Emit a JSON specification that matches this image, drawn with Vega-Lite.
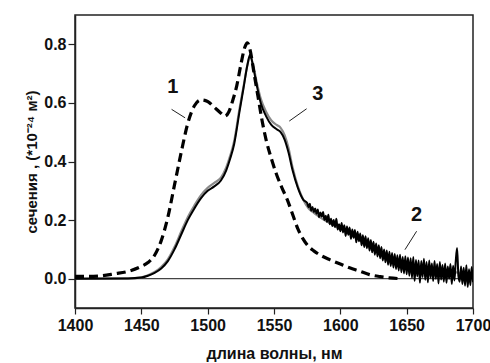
{
  "$schema": "https://vega.github.io/schema/vega-lite/v6.json",
  "width": 398,
  "height": 293,
  "autosize": {"type": "none"},
  "padding": {"left": 75, "top": 15, "right": 17, "bottom": 55},
  "background": "white",
  "config": {
    "view": {"stroke": "#222", "strokeWidth": 1.5},
    "font": "Liberation Sans",
    "axis": {
      "labelFont": "Liberation Sans",
      "labelFontWeight": "bold",
      "labelFontSize": 16,
      "labelColor": "#111",
      "titleFont": "Liberation Sans",
      "titleFontSize": 15,
      "titleFontWeight": "bold",
      "titleColor": "#111",
      "domainColor": "#222",
      "tickColor": "#222",
      "grid": false
    }
  },
  "datasets": {
    "curves": [
      {"series": "1", "wl": 1400, "s": 0.008},
      {"series": "1", "wl": 1410, "s": 0.008},
      {"series": "1", "wl": 1420, "s": 0.01},
      {"series": "1", "wl": 1430, "s": 0.017},
      {"series": "1", "wl": 1440, "s": 0.025},
      {"series": "1", "wl": 1450, "s": 0.042},
      {"series": "1", "wl": 1455, "s": 0.055},
      {"series": "1", "wl": 1460, "s": 0.08},
      {"series": "1", "wl": 1465, "s": 0.13},
      {"series": "1", "wl": 1470, "s": 0.21},
      {"series": "1", "wl": 1475, "s": 0.32},
      {"series": "1", "wl": 1480, "s": 0.43},
      {"series": "1", "wl": 1485, "s": 0.53},
      {"series": "1", "wl": 1490, "s": 0.59},
      {"series": "1", "wl": 1495, "s": 0.61},
      {"series": "1", "wl": 1500, "s": 0.605},
      {"series": "1", "wl": 1505, "s": 0.585},
      {"series": "1", "wl": 1510, "s": 0.565},
      {"series": "1", "wl": 1513, "s": 0.555},
      {"series": "1", "wl": 1516, "s": 0.57},
      {"series": "1", "wl": 1519, "s": 0.61},
      {"series": "1", "wl": 1522, "s": 0.66},
      {"series": "1", "wl": 1525, "s": 0.73},
      {"series": "1", "wl": 1528, "s": 0.79},
      {"series": "1", "wl": 1530, "s": 0.805},
      {"series": "1", "wl": 1532, "s": 0.78},
      {"series": "1", "wl": 1535, "s": 0.7},
      {"series": "1", "wl": 1538, "s": 0.62},
      {"series": "1", "wl": 1541, "s": 0.54},
      {"series": "1", "wl": 1544, "s": 0.475},
      {"series": "1", "wl": 1548, "s": 0.41},
      {"series": "1", "wl": 1552, "s": 0.355},
      {"series": "1", "wl": 1556, "s": 0.31},
      {"series": "1", "wl": 1560, "s": 0.27},
      {"series": "1", "wl": 1564, "s": 0.22},
      {"series": "1", "wl": 1568, "s": 0.17},
      {"series": "1", "wl": 1572, "s": 0.135},
      {"series": "1", "wl": 1576, "s": 0.11},
      {"series": "1", "wl": 1580, "s": 0.095},
      {"series": "1", "wl": 1585, "s": 0.08},
      {"series": "1", "wl": 1592, "s": 0.065},
      {"series": "1", "wl": 1600, "s": 0.05},
      {"series": "1", "wl": 1607, "s": 0.037},
      {"series": "1", "wl": 1615, "s": 0.025},
      {"series": "1", "wl": 1622, "s": 0.014},
      {"series": "1", "wl": 1630, "s": 0.007},
      {"series": "1", "wl": 1637, "s": 0.003},
      {"series": "1", "wl": 1645, "s": 0.0},

      {"series": "3", "wl": 1400, "s": 0.0},
      {"series": "3", "wl": 1440, "s": 0.001},
      {"series": "3", "wl": 1450, "s": 0.005},
      {"series": "3", "wl": 1455, "s": 0.012},
      {"series": "3", "wl": 1460, "s": 0.023},
      {"series": "3", "wl": 1465, "s": 0.04},
      {"series": "3", "wl": 1470, "s": 0.066},
      {"series": "3", "wl": 1475, "s": 0.108},
      {"series": "3", "wl": 1480, "s": 0.16},
      {"series": "3", "wl": 1485, "s": 0.21},
      {"series": "3", "wl": 1490, "s": 0.25},
      {"series": "3", "wl": 1495, "s": 0.285},
      {"series": "3", "wl": 1500, "s": 0.31},
      {"series": "3", "wl": 1505, "s": 0.327},
      {"series": "3", "wl": 1510, "s": 0.345},
      {"series": "3", "wl": 1514, "s": 0.38},
      {"series": "3", "wl": 1517, "s": 0.42},
      {"series": "3", "wl": 1520, "s": 0.47},
      {"series": "3", "wl": 1524, "s": 0.58},
      {"series": "3", "wl": 1527, "s": 0.655},
      {"series": "3", "wl": 1530, "s": 0.73},
      {"series": "3", "wl": 1532, "s": 0.76},
      {"series": "3", "wl": 1534, "s": 0.735},
      {"series": "3", "wl": 1537, "s": 0.67},
      {"series": "3", "wl": 1540, "s": 0.615},
      {"series": "3", "wl": 1544, "s": 0.57},
      {"series": "3", "wl": 1548, "s": 0.54},
      {"series": "3", "wl": 1552, "s": 0.525},
      {"series": "3", "wl": 1555, "s": 0.515},
      {"series": "3", "wl": 1558, "s": 0.49},
      {"series": "3", "wl": 1561, "s": 0.445},
      {"series": "3", "wl": 1564, "s": 0.38},
      {"series": "3", "wl": 1568, "s": 0.315},
      {"series": "3", "wl": 1572, "s": 0.27},
      {"series": "3", "wl": 1576, "s": 0.24},
      {"series": "3", "wl": 1580, "s": 0.225},
      {"series": "3", "wl": 1590, "s": 0.195},
      {"series": "3", "wl": 1600, "s": 0.17},
      {"series": "3", "wl": 1610, "s": 0.145},
      {"series": "3", "wl": 1620, "s": 0.115},
      {"series": "3", "wl": 1630, "s": 0.088},
      {"series": "3", "wl": 1640, "s": 0.065},
      {"series": "3", "wl": 1650, "s": 0.05},
      {"series": "3", "wl": 1660, "s": 0.04},
      {"series": "3", "wl": 1670, "s": 0.032},
      {"series": "3", "wl": 1680, "s": 0.026},
      {"series": "3", "wl": 1690, "s": 0.02},
      {"series": "3", "wl": 1700, "s": 0.016},

      {"series": "2", "wl": 1400, "s": 0.0},
      {"series": "2", "wl": 1440, "s": 0.001},
      {"series": "2", "wl": 1450, "s": 0.004},
      {"series": "2", "wl": 1455, "s": 0.01},
      {"series": "2", "wl": 1460, "s": 0.02},
      {"series": "2", "wl": 1465, "s": 0.035},
      {"series": "2", "wl": 1470, "s": 0.06},
      {"series": "2", "wl": 1475, "s": 0.1},
      {"series": "2", "wl": 1480, "s": 0.15},
      {"series": "2", "wl": 1485, "s": 0.2},
      {"series": "2", "wl": 1490, "s": 0.24},
      {"series": "2", "wl": 1495, "s": 0.275},
      {"series": "2", "wl": 1500, "s": 0.3},
      {"series": "2", "wl": 1505, "s": 0.315},
      {"series": "2", "wl": 1510, "s": 0.335},
      {"series": "2", "wl": 1514, "s": 0.37},
      {"series": "2", "wl": 1517, "s": 0.41},
      {"series": "2", "wl": 1520, "s": 0.46},
      {"series": "2", "wl": 1524, "s": 0.57},
      {"series": "2", "wl": 1527, "s": 0.65},
      {"series": "2", "wl": 1530, "s": 0.73},
      {"series": "2", "wl": 1532, "s": 0.765},
      {"series": "2", "wl": 1534, "s": 0.73},
      {"series": "2", "wl": 1537, "s": 0.66},
      {"series": "2", "wl": 1540, "s": 0.6},
      {"series": "2", "wl": 1544, "s": 0.555},
      {"series": "2", "wl": 1548, "s": 0.525},
      {"series": "2", "wl": 1552, "s": 0.51},
      {"series": "2", "wl": 1555, "s": 0.5},
      {"series": "2", "wl": 1558, "s": 0.475},
      {"series": "2", "wl": 1561, "s": 0.43},
      {"series": "2", "wl": 1564, "s": 0.37},
      {"series": "2", "wl": 1568, "s": 0.31},
      {"series": "2", "wl": 1572, "s": 0.27},
      {"series": "2", "wl": 1575, "s": 0.258},
      {"series": "2", "wl": 1576, "s": 0.244},
      {"series": "2", "wl": 1577, "s": 0.256},
      {"series": "2", "wl": 1578, "s": 0.232},
      {"series": "2", "wl": 1579, "s": 0.245},
      {"series": "2", "wl": 1580, "s": 0.228},
      {"series": "2", "wl": 1581, "s": 0.24},
      {"series": "2", "wl": 1582, "s": 0.222},
      {"series": "2", "wl": 1583, "s": 0.236},
      {"series": "2", "wl": 1584, "s": 0.21},
      {"series": "2", "wl": 1585, "s": 0.226},
      {"series": "2", "wl": 1586, "s": 0.212},
      {"series": "2", "wl": 1587, "s": 0.228},
      {"series": "2", "wl": 1588, "s": 0.2},
      {"series": "2", "wl": 1589, "s": 0.215},
      {"series": "2", "wl": 1590, "s": 0.194},
      {"series": "2", "wl": 1591, "s": 0.218},
      {"series": "2", "wl": 1592, "s": 0.186},
      {"series": "2", "wl": 1593, "s": 0.205},
      {"series": "2", "wl": 1594, "s": 0.18},
      {"series": "2", "wl": 1595, "s": 0.2},
      {"series": "2", "wl": 1596, "s": 0.176},
      {"series": "2", "wl": 1597, "s": 0.205},
      {"series": "2", "wl": 1598, "s": 0.168},
      {"series": "2", "wl": 1599, "s": 0.186},
      {"series": "2", "wl": 1600, "s": 0.162},
      {"series": "2", "wl": 1601, "s": 0.19},
      {"series": "2", "wl": 1602, "s": 0.158},
      {"series": "2", "wl": 1603, "s": 0.182},
      {"series": "2", "wl": 1604, "s": 0.146},
      {"series": "2", "wl": 1605, "s": 0.178},
      {"series": "2", "wl": 1606, "s": 0.15},
      {"series": "2", "wl": 1607, "s": 0.175},
      {"series": "2", "wl": 1608, "s": 0.136},
      {"series": "2", "wl": 1609, "s": 0.168},
      {"series": "2", "wl": 1610, "s": 0.14},
      {"series": "2", "wl": 1611, "s": 0.166},
      {"series": "2", "wl": 1612, "s": 0.124},
      {"series": "2", "wl": 1613, "s": 0.16},
      {"series": "2", "wl": 1614, "s": 0.128},
      {"series": "2", "wl": 1615, "s": 0.154},
      {"series": "2", "wl": 1616, "s": 0.114},
      {"series": "2", "wl": 1617, "s": 0.148},
      {"series": "2", "wl": 1618, "s": 0.108},
      {"series": "2", "wl": 1619, "s": 0.145},
      {"series": "2", "wl": 1620, "s": 0.104},
      {"series": "2", "wl": 1621, "s": 0.138},
      {"series": "2", "wl": 1622, "s": 0.096},
      {"series": "2", "wl": 1623, "s": 0.132},
      {"series": "2", "wl": 1624, "s": 0.09},
      {"series": "2", "wl": 1625, "s": 0.126},
      {"series": "2", "wl": 1626, "s": 0.082},
      {"series": "2", "wl": 1627, "s": 0.12},
      {"series": "2", "wl": 1628, "s": 0.076},
      {"series": "2", "wl": 1629, "s": 0.114},
      {"series": "2", "wl": 1630, "s": 0.07},
      {"series": "2", "wl": 1631, "s": 0.108},
      {"series": "2", "wl": 1632, "s": 0.062},
      {"series": "2", "wl": 1633, "s": 0.1},
      {"series": "2", "wl": 1634, "s": 0.056},
      {"series": "2", "wl": 1635, "s": 0.096},
      {"series": "2", "wl": 1636, "s": 0.048},
      {"series": "2", "wl": 1637, "s": 0.092},
      {"series": "2", "wl": 1638, "s": 0.043},
      {"series": "2", "wl": 1639, "s": 0.088},
      {"series": "2", "wl": 1640, "s": 0.038},
      {"series": "2", "wl": 1641, "s": 0.084},
      {"series": "2", "wl": 1642, "s": 0.033},
      {"series": "2", "wl": 1643, "s": 0.08},
      {"series": "2", "wl": 1644, "s": 0.028},
      {"series": "2", "wl": 1645, "s": 0.082},
      {"series": "2", "wl": 1646, "s": 0.022},
      {"series": "2", "wl": 1647, "s": 0.074},
      {"series": "2", "wl": 1648, "s": 0.018},
      {"series": "2", "wl": 1649, "s": 0.077},
      {"series": "2", "wl": 1650, "s": 0.015},
      {"series": "2", "wl": 1651, "s": 0.072},
      {"series": "2", "wl": 1652, "s": 0.01},
      {"series": "2", "wl": 1653, "s": 0.07},
      {"series": "2", "wl": 1654, "s": 0.003},
      {"series": "2", "wl": 1655, "s": 0.074},
      {"series": "2", "wl": 1656, "s": -0.008},
      {"series": "2", "wl": 1657, "s": 0.064},
      {"series": "2", "wl": 1658, "s": 0.008},
      {"series": "2", "wl": 1659, "s": 0.062},
      {"series": "2", "wl": 1660, "s": -0.014},
      {"series": "2", "wl": 1661, "s": 0.06},
      {"series": "2", "wl": 1662, "s": 0.006},
      {"series": "2", "wl": 1663, "s": 0.068},
      {"series": "2", "wl": 1664, "s": -0.004},
      {"series": "2", "wl": 1665, "s": 0.057},
      {"series": "2", "wl": 1666, "s": -0.012},
      {"series": "2", "wl": 1667, "s": 0.062},
      {"series": "2", "wl": 1668, "s": 0.003},
      {"series": "2", "wl": 1669, "s": 0.052},
      {"series": "2", "wl": 1670, "s": -0.008},
      {"series": "2", "wl": 1671, "s": 0.06},
      {"series": "2", "wl": 1672, "s": 0.0},
      {"series": "2", "wl": 1673, "s": 0.05},
      {"series": "2", "wl": 1674, "s": -0.016},
      {"series": "2", "wl": 1675, "s": 0.057},
      {"series": "2", "wl": 1676, "s": -0.003},
      {"series": "2", "wl": 1677, "s": 0.047},
      {"series": "2", "wl": 1678, "s": -0.01},
      {"series": "2", "wl": 1679, "s": 0.052},
      {"series": "2", "wl": 1680, "s": -0.014},
      {"series": "2", "wl": 1681, "s": 0.042},
      {"series": "2", "wl": 1682, "s": 0.0},
      {"series": "2", "wl": 1683, "s": 0.05},
      {"series": "2", "wl": 1684, "s": -0.018},
      {"series": "2", "wl": 1685, "s": 0.044},
      {"series": "2", "wl": 1686, "s": -0.006},
      {"series": "2", "wl": 1687, "s": 0.06},
      {"series": "2", "wl": 1688, "s": 0.105},
      {"series": "2", "wl": 1689, "s": 0.01},
      {"series": "2", "wl": 1690, "s": -0.01},
      {"series": "2", "wl": 1691, "s": 0.042},
      {"series": "2", "wl": 1692, "s": -0.018},
      {"series": "2", "wl": 1693, "s": 0.037},
      {"series": "2", "wl": 1694, "s": -0.024},
      {"series": "2", "wl": 1695, "s": 0.046},
      {"series": "2", "wl": 1696, "s": -0.028},
      {"series": "2", "wl": 1697, "s": 0.032},
      {"series": "2", "wl": 1698, "s": -0.022},
      {"series": "2", "wl": 1699, "s": 0.04},
      {"series": "2", "wl": 1700, "s": -0.012}
    ],
    "labels": [
      {"label": "1", "wl": 1473.8, "s": 0.653},
      {"label": "3", "wl": 1583, "s": 0.629},
      {"label": "2", "wl": 1657.5, "s": 0.219}
    ],
    "arrows": [
      {"label": "1", "wl": 1472.8, "s": 0.578, "wl2": 1483, "s2": 0.549},
      {"label": "3", "wl": 1574.6, "s": 0.58, "wl2": 1561.5, "s2": 0.538},
      {"label": "2", "wl": 1657.5, "s": 0.162, "wl2": 1648.7, "s2": 0.099}
    ]
  },
  "layer": [
    {
      "data": {"values": [{"z": 0}]},
      "mark": {"type": "rule", "color": "#444", "strokeWidth": 1.2},
      "encoding": {
        "y": {
          "field": "z", "type": "quantitative",
          "scale": {"domain": [-0.1, 0.9], "nice": false, "zero": false},
          "axis": {
            "title": "сечения , (*10⁻²⁴ м²)",
            "values": [0, 0.1, 0.2, 0.3, 0.4, 0.5, 0.6, 0.7, 0.8],
            "format": ".1f",
            "labelExpr": "round(datum.value * 10) % 2 === 0 ? datum.label : ''",
            "tickSize": {"condition": {"test": "round(datum.value * 10) % 2 === 0", "value": 7}, "value": 4},
            "tickWidth": 1.2,
            "domainWidth": 1.5,
            "labelPadding": 2,
            "titlePadding": 4
          }
        }
      }
    },
    {
      "data": {"name": "curves"},
      "transform": [{"filter": "datum.series === '3'"}],
      "mark": {"type": "line", "color": "#8a8a8a", "strokeWidth": 2.2, "interpolate": "monotone", "clip": true},
      "encoding": {
        "x": {
          "field": "wl", "type": "quantitative",
          "scale": {"domain": [1400, 1700], "nice": false},
          "axis": {
            "title": "длина волны, нм",
            "titleFontSize": 16,
            "values": [1400, 1425, 1450, 1475, 1500, 1525, 1550, 1575, 1600, 1625, 1650, 1675, 1700],
            "labelExpr": "datum.value % 50 === 0 ? datum.label : ''",
            "format": "d",
            "tickSize": {"condition": {"test": "datum.value % 50 === 0", "value": 6}, "value": 4},
            "tickWidth": 1.2,
            "domainWidth": 1.5,
            "labelPadding": 3,
            "titlePadding": 12,
            "labelFlush": false
          }
        },
        "y": {"field": "s", "type": "quantitative"}
      }
    },
    {
      "data": {"name": "curves"},
      "transform": [{"filter": "datum.series === '2'"}],
      "mark": {"type": "line", "color": "#000", "strokeWidth": 2, "interpolate": "monotone", "clip": true},
      "encoding": {
        "x": {"field": "wl", "type": "quantitative"},
        "y": {"field": "s", "type": "quantitative"}
      }
    },
    {
      "data": {"name": "curves"},
      "transform": [{"filter": "datum.series === '1'"}],
      "mark": {"type": "line", "color": "#000", "strokeWidth": 3.2, "strokeDash": [9, 5], "interpolate": "monotone", "clip": true},
      "encoding": {
        "x": {"field": "wl", "type": "quantitative"},
        "y": {"field": "s", "type": "quantitative"}
      }
    },
    {
      "data": {"name": "arrows"},
      "mark": {"type": "rule", "color": "#222", "strokeWidth": 1},
      "encoding": {
        "x": {"field": "wl", "type": "quantitative"},
        "y": {"field": "s", "type": "quantitative"},
        "x2": {"field": "wl2"},
        "y2": {"field": "s2"}
      }
    },
    {
      "data": {"name": "labels"},
      "mark": {"type": "text", "font": "Liberation Sans", "fontWeight": "bold", "fontSize": 20, "color": "#111", "align": "center", "baseline": "middle"},
      "encoding": {
        "x": {"field": "wl", "type": "quantitative"},
        "y": {"field": "s", "type": "quantitative"},
        "text": {"field": "label"}
      }
    }
  ]
}
